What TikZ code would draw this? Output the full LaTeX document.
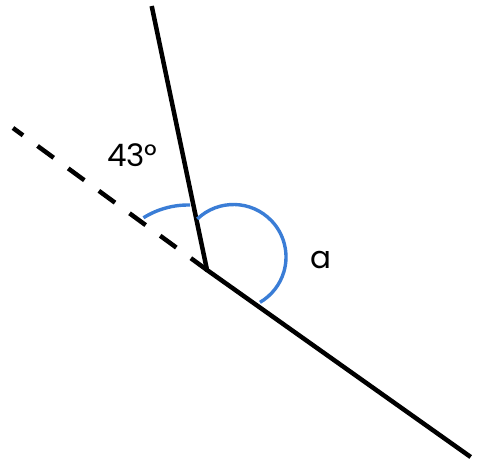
\documentclass[tikz,border=0pt]{standalone}
\usepackage{fontspec}
\setmainfont{Poppins}
\definecolor{arcblue}{RGB}{58,125,214}
\begin{document}
\begin{tikzpicture}[x=1pt,y=-1pt,
  ray/.style={line width=4.5pt,black},
  dashray/.style={line width=4.5pt,black,dash pattern=on 20pt off 18pt},
  anglearc/.style={line width=3.4pt,arcblue},
  lbl/.style={font=\fontsize{31}{31}\selectfont,inner sep=0pt}]
\useasboundingbox (0,0) rectangle (496,472);
\coordinate (V) at (207,270);
\coordinate (T) at (151.7,6);
\coordinate (R) at (470.7,457);
\coordinate (L) at (13,128);
\draw[dashray] (V) -- (L);
\draw[ray] (T) -- (V) -- (R);
\coordinate (C1) at (188,289);
\coordinate (C2) at (233.5,257);
\draw[anglearc] (C1) ++(-122:84) arc[start angle=-122, end angle=-88.6, radius=84];
\draw[anglearc] (C2) ++(-133.6:52.5) arc[start angle=-133.6, end angle=59.7, radius=52.5];
\node[lbl] (t43) at (132.3,155) {43°};
\node[lbl] (ta) at (321,260) {a};
\end{tikzpicture}
\end{document}
